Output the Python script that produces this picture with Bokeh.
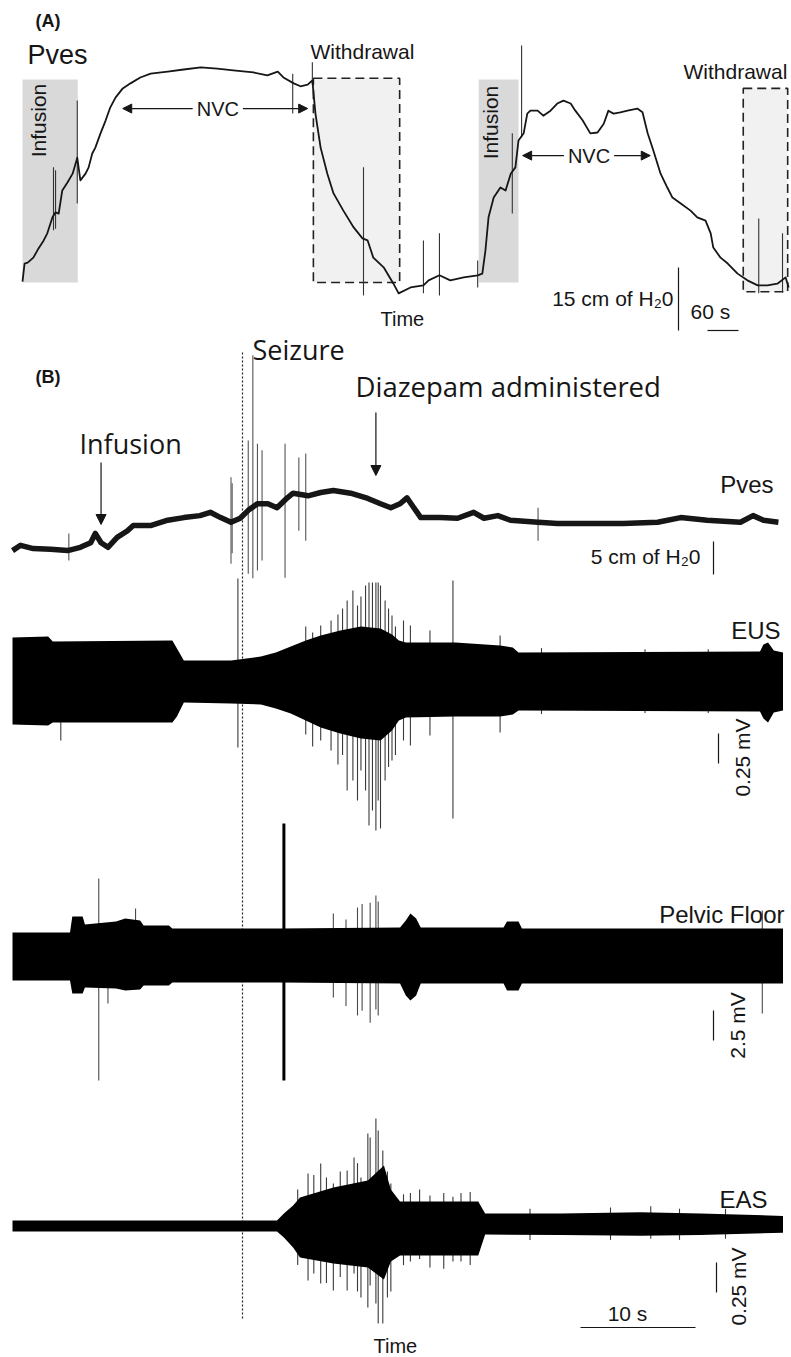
from math import pi
from bokeh.plotting import figure
from bokeh.models import Range1d, Label, Arrow, NormalHead
from bokeh.embed import file_html
from bokeh.resources import INLINE

# ======================= DATA =======================
# ---- Panel A : bladder pressure (Pves) during cystometry ----
pvesA_t = [0, 4, 10, 21, 31, 41, 48, 58, 64, 70, 77, 87, 97, 106, 112, 122, 128, 135, 141, 151,
           161, 170, 180, 194, 209, 228, 248, 281, 312, 345, 377, 408, 447, 474, 494, 505, 525, 538,
           552, 561, 567, 577, 590, 602, 621, 641, 658, 668, 679, 699, 718, 728, 751, 776, 786, 807,
           828, 854, 881, 890, 896, 902, 912, 925, 935, 945, 954, 960, 970, 977, 983, 997, 1008,
           1022, 1035, 1047, 1061, 1070, 1084, 1099, 1113, 1125, 1134, 1144, 1157, 1171, 1190, 1200,
           1210, 1221, 1235, 1248, 1258, 1274, 1293, 1306, 1322, 1332, 1337, 1351, 1365, 1384, 1403,
           1423, 1442, 1461, 1477, 1483]  # s
pvesA_p = [4.5, 8.8, 9.0, 10.2, 12.4, 14.3, 16.0, 19.8, 21.0, 20.7, 26.2, 28.1, 30.2, 34.0, 28.6,
           30.2, 31.7, 35.0, 36.4, 39.8, 42.9, 46.0, 48.3, 50.5, 51.7, 53.1, 54.0, 54.5, 55.0, 55.5,
           55.2, 54.8, 54.3, 53.6, 54.5, 53.1, 51.7, 51.0, 51.4, 52.4, 44.5, 36.4, 30.2, 25.5, 21.4,
           17.4, 14.8, 14.3, 10.2, 7.9, 4.0, 1.7, 3.1, 3.6, 4.8, 6.0, 4.8, 5.5, 6.0, 6.4, 11.9, 19.8,
           24.5, 26.9, 26.2, 30.2, 31.7, 38.1, 39.8, 44.5, 45.2, 45.2, 44.0, 45.2, 46.9, 47.6, 46.9,
           45.2, 42.9, 39.8, 40.0, 42.1, 45.2, 44.5, 44.8, 45.2, 45.7, 44.8, 39.8, 35.7, 30.2, 26.9,
           24.5, 23.1, 21.4, 19.8, 19.0, 16.0, 12.6, 10.2, 8.8, 6.4, 4.8, 3.6, 3.6, 4.0, 5.5, 3.1]  # cm H2O
spkA_t = [60, 64, 106, 523, 561, 660, 776, 807, 881, 948, 966, 1425, 1471]
spkA_top = [31.7, 31.0, 47.6, 54.0, 56.7, 31.7, 14.3, 16.0, 9.5, 39.8, 60.7, 19.5, 16.0]
spkA_bot = [16.7, 17.1, 23.1, 44.5, 51.4, 1.2, 1.7, 1.2, 3.1, 20.7, 38.8, 1.7, 1.9]
infusion_start = [0, 883]
infusion_end = [107, 960]
infusion_lo, infusion_hi = 4.3, 52.6
withdrawal_start = [563, 1395]
withdrawal_end = [730, 1481]
withdrawal_lo = [4.3, 2.1]
withdrawal_hi = [52.9, 50.5]
nvc_start = [194, 968]
nvc_end = [552, 1215]
nvc_level = [45.7, 34.5]
scaleA_p, scaleA_t = 15, 60   # 15 cm H2O, 60 s

# ---- Panel B : Pves and EMG during seizure ----
infusion_B_t, seizure_t, diazepam_t = 7.7, 20.0, 31.6   # s
pvesB_t = [0.0, 0.7, 1.8, 3.3, 4.8, 5.9, 6.8, 7.2, 7.7, 8.3, 9.1, 10.0, 10.5, 12.0, 13.5, 14.9, 16.3,
           17.2, 18.1, 19.0, 19.8, 20.5, 21.3, 22.2, 23.0, 23.9, 24.4, 25.7, 26.8, 27.9, 29.4, 30.9,
           32.0, 32.9, 33.7, 34.3, 34.9, 35.5, 37.2, 38.7, 40.1, 41.0, 42.2, 43.3, 45.7, 47.4, 50.3,
           53.1, 56.1, 58.1, 60.4, 63.3, 64.4, 65.3, 66.6]
pvesB_p = [1.5, 2.3, 1.8, 1.7, 1.5, 2.0, 2.7, 4.1, 2.7, 2.0, 3.5, 4.5, 5.3, 5.3, 6.1, 6.5, 6.8, 7.3,
           6.5, 5.8, 6.4, 7.6, 8.6, 8.6, 8.0, 9.5, 10.2, 9.8, 10.3, 10.6, 10.2, 9.4, 8.6, 8.0, 8.6,
           9.5, 8.0, 6.5, 6.5, 6.4, 7.3, 6.4, 6.8, 6.1, 5.8, 5.6, 5.6, 5.6, 5.8, 6.5, 6.1, 5.8, 6.8,
           6.1, 5.8]
pvesB_spk_t = [4.9, 19.0, 19.1, 20.5, 20.9, 21.3, 21.7, 23.7, 24.9, 25.5, 45.7]
pvesB_spk_top = [4.1, 12.6, 11.7, 18.2, 31.1, 17.7, 16.7, 17.7, 15.6, 16.2, 8.0]
pvesB_spk_bot = [0.0, -0.5, 1.1, -2.0, -2.7, -1.5, 0.0, -2.6, 4.5, 3.0, 3.0]

eus_t = [0.0, 3.1, 3.5, 13.9, 14.3, 14.9, 19.0, 21.6, 22.9, 24.2, 25.5, 26.8, 28.5, 30.3, 32.0,
         33.0, 33.6, 34.2, 38.5, 42.4, 43.5, 44.0, 65.0, 65.3, 65.7, 66.2, 67.0]
eus_top = [0.358, 0.367, 0.325, 0.333, 0.267, 0.167, 0.167, 0.200, 0.233, 0.283, 0.333, 0.375, 0.417,
           0.450, 0.433, 0.383, 0.333, 0.317, 0.317, 0.292, 0.275, 0.233, 0.242, 0.300, 0.317, 0.250,
           0.233]
eus_bot = [-0.367, -0.375, -0.350, -0.350, -0.300, -0.183, -0.192, -0.200, -0.233, -0.275, -0.333,
           -0.392, -0.442, -0.483, -0.500, -0.417, -0.333, -0.308, -0.300, -0.300, -0.283, -0.250,
           -0.258, -0.317, -0.350, -0.267, -0.250]
eus_spk_t = [4.2, 19.6, 25.5, 26.1, 26.8, 27.7, 28.3, 28.7, 29.1, 29.6, 30.0, 30.3, 30.7, 31.0, 31.3,
             31.6, 31.8, 32.0, 32.4, 32.7, 33.0, 33.3, 34.0, 34.6, 36.3, 38.3, 42.4, 46.0, 55.0, 60.5]
eus_spk_top = [-0.30, 0.850, 0.45, 0.40, 0.458, 0.500, 0.55, 0.60, 0.667, 0.750, 0.625, 0.70, 0.792,
               0.817, 0.817, 0.817, 0.817, 0.792, 0.667, 0.60, 0.542, 0.45, 0.500, 0.458, 0.417,
               0.833, 0.375, 0.27, 0.26, 0.26]
eus_spk_bot = [-0.50, -0.558, -0.45, -0.55, -0.500, -0.583, -0.70, -0.62, -0.917, -0.833, -1.000,
               -0.75, -0.917, -1.208, -1.083, -1.250, -1.000, -1.233, -0.833, -0.72, -0.667, -0.62,
               -0.500, -0.542, -0.458, -1.150, -0.433, -0.28, -0.27, -0.27]

pf_t = [0.0, 5.0, 5.2, 6.1, 6.3, 9.0, 9.8, 11.1, 11.4, 13.6, 13.9, 23.3, 33.7, 34.2, 34.6, 35.1, 35.5,
        42.7, 43.0, 44.0, 44.3, 67.0]
pf_top = [1.92, 1.92, 3.25, 3.25, 2.58, 2.83, 3.08, 2.92, 2.50, 2.50, 2.25, 2.25, 2.33, 2.92, 3.50,
          3.08, 2.33, 2.33, 2.83, 2.83, 2.25, 2.25]
pf_bot = [-2.08, -2.08, -3.17, -3.17, -2.67, -2.75, -2.92, -2.83, -2.50, -2.50, -2.25, -2.25, -2.33,
          -3.33, -3.75, -3.33, -2.33, -2.33, -2.92, -2.92, -2.33, -2.33]
pf_spk_t = [7.5, 8.3, 10.7, 27.9, 29.0, 30.0, 30.4, 31.1, 31.6, 31.8, 65.2]
pf_spk_top = [6.42, 0.0, 3.92, 3.5, 3.0, 4.0, 4.3, 4.4, 5.0, 4.5, 3.75]
pf_spk_bot = [-10.42, -4.0, 0.0, -3.5, -4.2, -5.0, -4.6, -5.6, -4.5, -5.0, -4.83]
pf_big_t, pf_big_top, pf_big_bot = [23.6], [11.0], [-10.42]

eas_t = [0.0, 23.0, 23.6, 24.4, 25.0, 27.9, 30.9, 32.3, 32.9, 33.7, 40.5, 41.1, 47.7, 54.6, 59.8, 67.0]
eas_top = [0.042, 0.042, 0.10, 0.167, 0.233, 0.317, 0.375, 0.50, 0.30, 0.20, 0.20, 0.10, 0.10, 0.11,
           0.10, 0.08]
eas_bot = [-0.05, -0.05, -0.10, -0.183, -0.267, -0.317, -0.35, -0.45, -0.30, -0.25, -0.25, -0.075,
           -0.08, -0.085, -0.08, -0.06]
eas_spk_t = [24.8, 25.7, 26.2, 26.8, 27.3, 27.9, 28.5, 29.1, 29.7, 30.0, 30.3, 30.9, 31.1, 31.6, 31.8,
             32.2, 32.6, 32.9, 34.0, 34.6, 35.4, 36.3, 37.5, 38.3, 39.0, 39.8, 45.0, 52.0, 55.5,
             58.0, 62.0]
eas_spk_top = [0.30, 0.433, 0.42, 0.517, 0.40, 0.35, 0.45, 0.458, 0.567, 0.52, 0.40, 0.767, 0.733,
               0.892, 0.792, 0.625, 0.45, 0.35, 0.26, 0.27, 0.30, 0.25, 0.27, 0.24, 0.27, 0.28, 0.14,
               0.15, 0.16, 0.14, 0.14]
eas_spk_bot = [-0.33, -0.458, -0.40, -0.483, -0.48, -0.542, -0.43, -0.542, -0.40, -0.55, -0.600,
               -0.683, -0.50, -0.650, -0.817, -0.817, -0.600, -0.55, -0.33, -0.30, -0.28, -0.35,
               -0.36, -0.30, -0.30, -0.33, -0.12, -0.12, -0.11, -0.12, -0.11]
scaleB_t, scaleB_pves, scaleB_eus, scaleB_pf, scaleB_eas = 10, 5, 0.25, 2.5, 0.25

# ======================= LAYOUT =======================
W, H = 791, 1357
XR = (0, 791)      # layout window (layout units = page pixels)
YR = (0, 1357)
# anchors: (origin, layout-units per data unit)
A_X0, A_SX = 22, 31 / 60
B_X0, B_SX = 12, 11.5
A_Y0, A_SY = 300, 4.2
PB_Y0, PB_SY = 560, 6.6
EUS_Y0, EUS_SY = 680, 120
PF_Y0, PF_SY = 955, 12
EAS_Y0, EAS_SY = 1225, 120


def xr(x0, s):
    return Range1d(start=(XR[0] - x0) / s, end=(XR[1] - x0) / s)


def yr(y0, s):
    return Range1d(start=(y0 - YR[1]) / s, end=(y0 - YR[0]) / s)


def tA(x): return (x - A_X0) / A_SX
def tB(x): return (x - B_X0) / B_SX
def vA(y): return (A_Y0 - y) / A_SY
def vPB(y): return (PB_Y0 - y) / PB_SY
def vEUS(y): return (EUS_Y0 - y) / EUS_SY
def vPF(y): return (PF_Y0 - y) / PF_SY
def vEAS(y): return (EAS_Y0 - y) / EAS_SY


p = figure(width=W, height=H, output_backend="svg", toolbar_location=None,
           x_range=Range1d(XR[0], XR[1]), y_range=Range1d(YR[1], YR[0]),
           min_border=0, outline_line_color=None, background_fill_color="white",
           border_fill_color="white")
p.xaxis.visible = False
p.yaxis.visible = False
p.grid.visible = False
p.extra_x_ranges = {"tA": xr(A_X0, A_SX), "tB": xr(B_X0, B_SX)}
p.extra_y_ranges = {"pA": yr(A_Y0, A_SY), "pB": yr(PB_Y0, PB_SY), "eus": yr(EUS_Y0, EUS_SY),
                    "pf": yr(PF_Y0, PF_SY), "eas": yr(EAS_Y0, EAS_SY)}

INK = "#161616"
SANS = "Liberation Sans"
OPEN = "Open Sans"


def lab(text, x, y, size, align="left", base=True, font=SANS, style="normal",
        angle=0.0, xrn="default", yrn="default", bg=None, pad=0):
    # base=True: y is the text baseline; text is anchored at its vertical middle
    yy = y - 0.35 * size if base else y
    l = Label(x=x, y=yy, text=text, text_font=font, text_font_size=f"{size}px", text_align=align,
              text_baseline="middle", text_font_style=style, angle=angle, text_color=INK,
              x_range_name=xrn, y_range_name=yrn)
    if bg is not None:
        l.background_fill_color = bg
        try:
            l.padding = pad
        except Exception:
            pass
    p.add_layout(l)


def head(sz=9):
    return NormalHead(size=sz, fill_color=INK, line_color=INK, line_width=1)


# ---------------- Panel A ----------------
p.quad(left=infusion_start, right=infusion_end, bottom=infusion_lo, top=infusion_hi,
       fill_color="#d9d9d9", line_color=None, x_range_name="tA", y_range_name="pA")
p.quad(left=withdrawal_start, right=withdrawal_end, bottom=withdrawal_lo, top=withdrawal_hi,
       fill_color="#f1f1f1", line_color="#222222", line_dash="9 5", line_width=1.6,
       x_range_name="tA", y_range_name="pA")
p.segment(x0=spkA_t, y0=spkA_bot, x1=spkA_t, y1=spkA_top, line_color="#333333", line_width=1.1,
          x_range_name="tA", y_range_name="pA")
p.line(pvesA_t, pvesA_p, line_color=INK, line_width=1.8, line_join="round",
       x_range_name="tA", y_range_name="pA")

for s, e, lv in zip(nvc_start, nvc_end, nvc_level):
    p.add_layout(Arrow(start=head(), end=head(), x_start=s, x_end=e, y_start=lv, y_end=lv,
                       line_color=INK, line_width=1.2, x_range_name="tA", y_range_name="pA"))
    lab("NVC", (s + e) / 2 + 5, lv, 20, align="center", base=False, xrn="tA", yrn="pA",
        bg="white", pad=4)

# scale bars A
p.segment(x0=[tA(678)], y0=[vA(330)], x1=[tA(678)], y1=[vA(330) + scaleA_p],
          line_color=INK, line_width=1.2, x_range_name="tA", y_range_name="pA")
p.segment(x0=[tA(707)], y0=[vA(330)], x1=[tA(707) + scaleA_t], y1=[vA(330)],
          line_color=INK, line_width=1.2, x_range_name="tA", y_range_name="pA")

lab("(A)", 35, 27, 18, style="bold")
lab("Pves", 27, 64, 27)
lab("Withdrawal", 310, 58, 21)
lab("Withdrawal", 683, 78, 21)
lab("Infusion", 37.5, 120, 21, align="center", base=False, angle=pi / 2)
lab("Infusion", 489.5, 122, 21, align="center", base=False, angle=pi / 2)
lab("Time", 380, 325, 20)
lab("15 cm of H\u20820", 673, 305, 21, align="right")
lab("60 s", 690, 318, 21)

# ---------------- Panel B ----------------
p.segment(x0=[seizure_t], y0=[352], x1=[seizure_t], y1=[1320], line_color="#222222",
          line_width=1.2, line_dash="2 2", x_range_name="tB")

# Pves
p.segment(x0=pvesB_spk_t, y0=pvesB_spk_bot, x1=pvesB_spk_t, y1=pvesB_spk_top, line_color="#555555",
          line_width=1.1, x_range_name="tB", y_range_name="pB")
p.line(pvesB_t, pvesB_p, line_color=INK, line_width=5.5, line_join="round",
       x_range_name="tB", y_range_name="pB")

# EUS
p.segment(x0=eus_spk_t, y0=eus_spk_bot, x1=eus_spk_t, y1=eus_spk_top, line_color="#3a3a3a",
          line_width=1.1, x_range_name="tB", y_range_name="eus")
p.varea(x=eus_t, y1=eus_bot, y2=eus_top, fill_color="black", x_range_name="tB", y_range_name="eus")

# Pelvic floor
p.segment(x0=pf_spk_t, y0=pf_spk_bot, x1=pf_spk_t, y1=pf_spk_top, line_color="#4a4a4a",
          line_width=1.1, x_range_name="tB", y_range_name="pf")
p.varea(x=pf_t, y1=pf_bot, y2=pf_top, fill_color="black", x_range_name="tB", y_range_name="pf")
p.segment(x0=pf_big_t, y0=pf_big_bot, x1=pf_big_t, y1=pf_big_top, line_color="black",
          line_width=3, x_range_name="tB", y_range_name="pf")

# EAS
p.segment(x0=eas_spk_t, y0=eas_spk_bot, x1=eas_spk_t, y1=eas_spk_top, line_color="#3a3a3a",
          line_width=1.1, x_range_name="tB", y_range_name="eas")
p.varea(x=eas_t, y1=eas_bot, y2=eas_top, fill_color="black", x_range_name="tB", y_range_name="eas")

# event arrows
p.add_layout(Arrow(end=head(10), x_start=infusion_B_t, x_end=infusion_B_t, y_start=462, y_end=524,
                   line_color=INK, line_width=1.2, x_range_name="tB"))
p.add_layout(Arrow(end=head(10), x_start=diazepam_t, x_end=diazepam_t, y_start=412, y_end=475,
                   line_color=INK, line_width=1.2, x_range_name="tB"))

# scale bars B
p.segment(x0=[tB(580)], y0=[1327], x1=[tB(580) + scaleB_t], y1=[1327], line_color=INK,
          line_width=1.2, x_range_name="tB")
p.segment(x0=[tB(713)], y0=[vPB(574)], x1=[tB(713)], y1=[vPB(574) + scaleB_pves], line_color=INK,
          line_width=1.2, x_range_name="tB", y_range_name="pB")
p.segment(x0=[tB(718)], y0=[vEUS(763)], x1=[tB(718)], y1=[vEUS(763) + scaleB_eus], line_color=INK,
          line_width=1.2, x_range_name="tB", y_range_name="eus")
p.segment(x0=[tB(713)], y0=[vPF(1040)], x1=[tB(713)], y1=[vPF(1040) + scaleB_pf], line_color=INK,
          line_width=1.2, x_range_name="tB", y_range_name="pf")
p.segment(x0=[tB(716)], y0=[vEAS(1292)], x1=[tB(716)], y1=[vEAS(1292) + scaleB_eas], line_color=INK,
          line_width=1.2, x_range_name="tB", y_range_name="eas")

lab("(B)", 35, 383, 18, style="bold")
lab("Seizure", 252, 358, 27, font=OPEN)
lab("Infusion", 79, 452, 27, font=OPEN)
lab("Diazepam administered", 355, 396, 27.5, font=OPEN)
lab("Pves", 773, 492, 24, align="right")
lab("5 cm of H\u20820", 700, 563, 21, align="right")
lab("EUS", 780, 638, 24, align="right")
lab("0.25 mV", 742, 757, 21, align="center", base=False, angle=pi / 2)
lab("Pelvic Floor", 784, 922, 24, align="right")
lab("2.5 mV", 737, 1025, 21, align="center", base=False, angle=pi / 2)
lab("EAS", 767, 1207, 24, align="right")
lab("0.25 mV", 738, 1286, 21, align="center", base=False, angle=pi / 2)
lab("10 s", 627, 1320, 21, align="center")
lab("Time", 373, 1352, 20)

open("out.html", "w").write(file_html(p, INLINE))
